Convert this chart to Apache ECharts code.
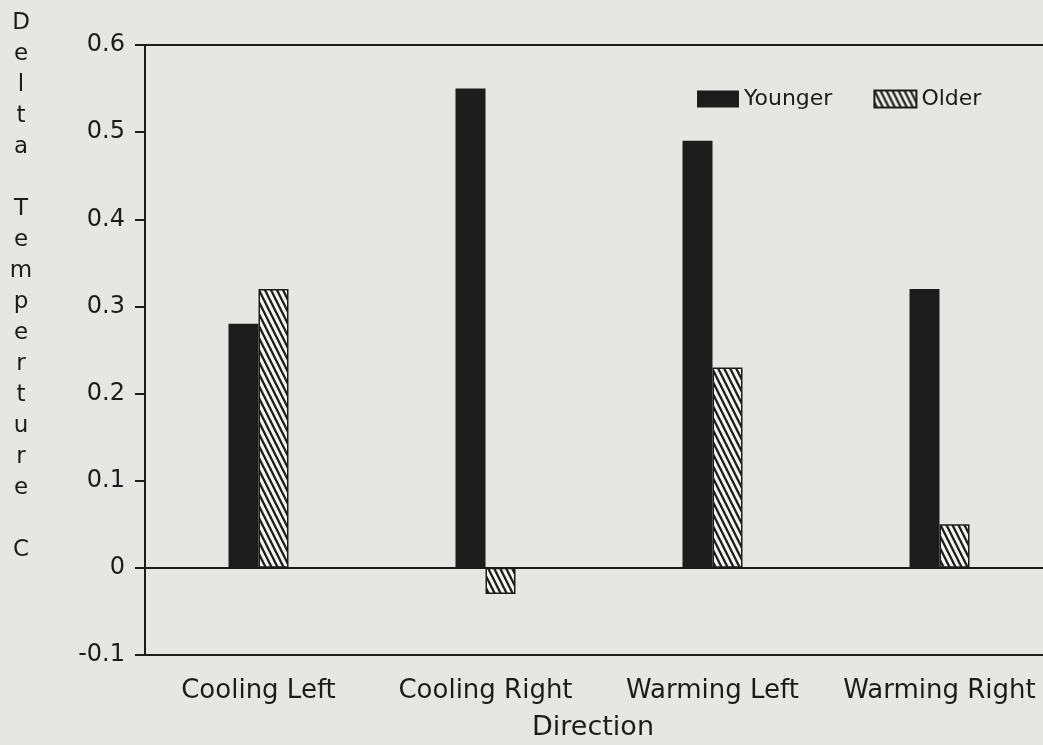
<!DOCTYPE html>
<html>
<head>
<meta charset="utf-8">
<script src="https://cdn.jsdelivr.net/npm/echarts@6/dist/echarts.min.js"></script>
<style>
  html, body { margin: 0; padding: 0; background: #e6e6e4; }
  #chart { width: 1043px; height: 745px; }
</style>
</head>
<body>
<div id="chart"></div>
<script>
const categories = ['Cooling Left', 'Cooling Right', 'Warming Left', 'Warming Right'];
const younger = [0.28, 0.55, 0.49, 0.32];
const older = [0.32, -0.03, 0.23, 0.05];
const yTicks = { min: -0.1, max: 0.6, step: 0.1 };
const yTitle = 'Delta Temperture C';

const ink = '#1c1c1c';
const font = 'DejaVu Sans';

// hatch tile: steep diagonal stripes going down to the right
function hatch() {
    const w = 6, h = 12;
    const c = document.createElement('canvas');
    c.width = w; c.height = h;
    const g = c.getContext('2d');
    g.fillStyle = '#f2f2f0';
    g.fillRect(0, 0, w, h);
    g.strokeStyle = ink;
    g.lineWidth = 2.3;
    for (let k = -3; k <= 3; k++) {
        g.beginPath();
        g.moveTo(k * w - w, -h);
        g.lineTo(k * w + 2 * w, 2 * h);
        g.stroke();
    }
    return c;
}

// "Delta Temperture C" stacked one letter per line
const stacked = yTitle.split('').join('\n');

const chart = echarts.init(document.getElementById('chart'));
chart.setOption({
    backgroundColor: '#e6e6e4',
    animation: false,
    grid: {
        left: 145, top: 45, width: 908, height: 610,
        outerBoundsMode: 'none', containLabel: false,
        show: true, borderColor: ink, borderWidth: 2
    },
    legend: {
        left: 692, top: 83,
        itemWidth: 42, itemHeight: 17, itemGap: 41,
        icon: 'rect',
        textStyle: { fontFamily: font, fontSize: 22, color: ink },
        data: ['Younger', 'Older']
    },
    xAxis: {
        type: 'category',
        data: categories,
        name: 'Direction',
        nameLocation: 'middle',
        nameGap: 59,
        nameTextStyle: { fontFamily: font, fontSize: 27, color: ink, padding: [0, 12, 0, 0] },
        axisLine: { onZero: false, lineStyle: { color: ink, width: 2 } },
        axisTick: { alignWithLabel: true, length: 10, lineStyle: { color: ink, width: 2 } },
        axisLabel: { interval: 0, fontFamily: font, fontSize: 26, color: ink, margin: 23 }
    },
    yAxis: {
        type: 'value',
        min: yTicks.min, max: yTicks.max, interval: yTicks.step,
        axisLine: { show: true, lineStyle: { color: ink, width: 2 } },
        axisTick: { show: true, length: 10, lineStyle: { color: ink, width: 2 } },
        axisLabel: { fontFamily: font, fontSize: 24, color: ink, margin: 20 },
        splitLine: { show: false }
    },
    graphic: [{
        type: 'text',
        x: 21, y: 8,
        style: {
            text: stacked, font: '23px "DejaVu Sans"', fill: ink,
            lineHeight: 31, textAlign: 'center', align: 'center'
        }
    }],
    series: [
        {
            name: 'Younger', type: 'bar', data: younger,
            barWidth: 30, barGap: '0%',
            itemStyle: { color: ink },
            markLine: {
                silent: true, symbol: 'none', label: { show: false },
                lineStyle: { color: ink, width: 2, type: 'solid' },
                data: [{ yAxis: 0 }]
            }
        },
        {
            name: 'Older', type: 'bar', data: older,
            barWidth: 30,
            itemStyle: { color: { image: hatch(), repeat: 'repeat' }, borderColor: ink, borderWidth: 1.5 }
        }
    ]
});
</script>
</body>
</html>
